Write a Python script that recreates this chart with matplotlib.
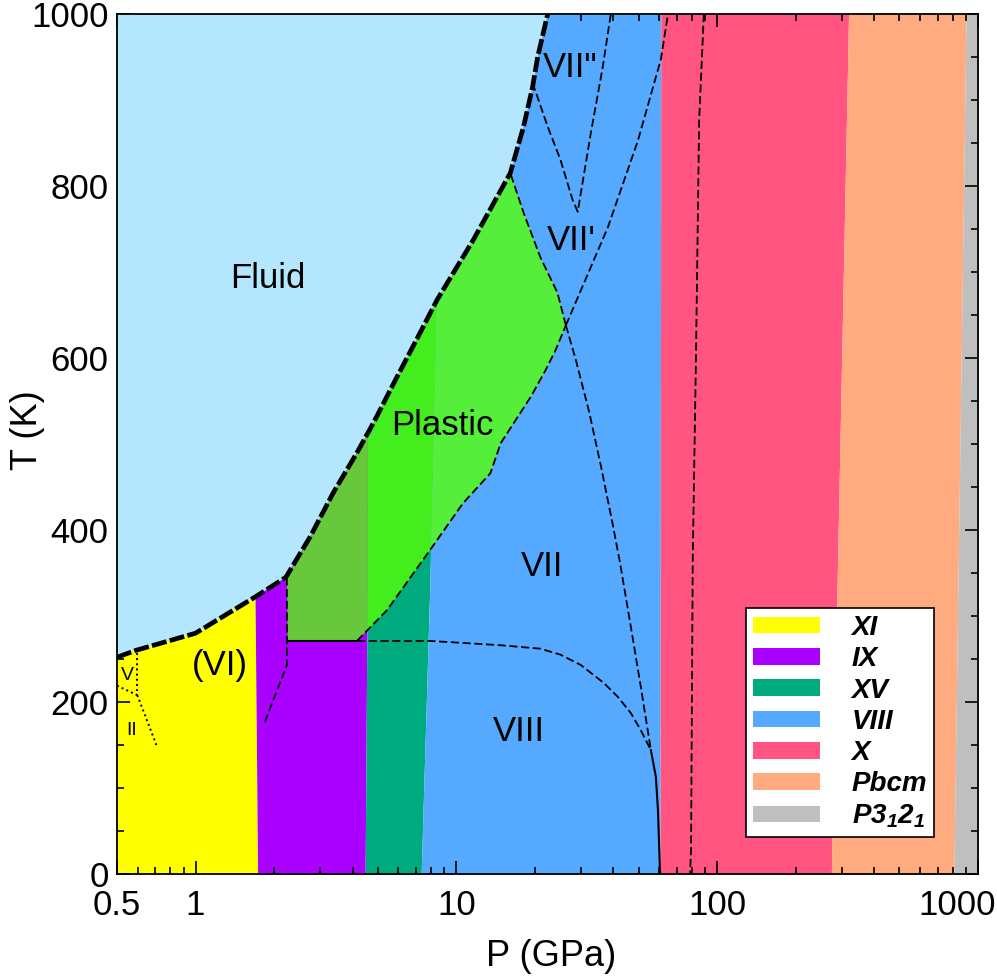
import numpy as np
import matplotlib.pyplot as plt
from matplotlib.patches import Patch, Polygon
from matplotlib.ticker import LogLocator, NullFormatter, MultipleLocator

plt.rcParams['font.family'] = ['Liberation Sans', 'DejaVu Sans']
plt.rcParams['mathtext.fontset'] = 'custom'
plt.rcParams['mathtext.rm'] = 'Liberation Sans:italic:bold'
plt.rcParams['mathtext.it'] = 'Liberation Sans:italic:bold'

# phases and colours
phases = ['XI', 'IX', 'XV', 'VIII', 'X', 'Pbcm', r'$P3_12_1$']
colors = ['#ffff00', '#aa00ff', '#00aa7f', '#55aaff', '#ff5580', '#ffaa7f', '#bfbfbf']
fluid_color = '#b4e6fd'
plastic_colors = ['#66c83a', '#44ee1e', '#55ee3a']

# solid phase borders, P (GPa) at the temperatures T_b (K)
T_b = [0, 330, 1000]
edge_XI_IX = [1.73, 1.69, 1.69]
edge_IX_XV = [4.47, 4.55, 4.6]
edge_XV_VIII = [7.33, 7.9, 8.9]
edge_VIII_X = [60.4, 60.5, 60.8]
edge_X_Pbcm = [274, 288, 319]
edge_Pbcm_P3 = [808, 837, 900]

# melting line
fluid_P = [0.5, 0.59, 1.0, 1.69, 2.22, 2.75, 3.37, 4.16, 4.8, 5.83, 7.0, 8.45, 11.6, 16.1, 18.1, 19.6, 20.5, 22.4]
fluid_T = [252, 260, 280, 322, 345, 392, 443, 490, 524, 574, 620, 668, 737, 815, 869, 915, 950, 1000]

# plastic phase outline
plastic_P = [2.26, 4.16, 5.43, 7.94, 10.6, 13.5, 14.8, 16.9, 19.3, 22.0, 24.0, 26.3,
             24.4, 21.0, 18.1, 16.1, 11.6, 8.45, 7.0, 5.83, 4.8, 4.16, 3.37, 2.75, 2.24]
plastic_T = [271, 271, 307, 377, 431, 466, 501, 528, 555, 586, 609, 638,
             676, 717, 769, 815, 737, 668, 620, 574, 524, 490, 443, 392, 345]
plastic_low_P = [4.16, 5.43, 7.94, 10.6, 13.5, 14.8, 16.9, 19.3, 22.0, 24.0, 26.3]
plastic_low_T = [271, 307, 377, 431, 466, 501, 528, 555, 586, 609, 638]
plastic_up_P = [26.3, 24.4, 21.0, 18.1, 16.1]
plastic_up_T = [638, 676, 717, 769, 815]

# other boundaries
ix_P = [2.24, 2.24, 1.84]
ix_T = [345, 243, 176]
vii_viii_P = [4.16, 7.94, 14.8, 21.0, 25.1, 30.0, 36.8, 41.6, 46.7, 51.0, 55.7]
vii_viii_T = [271, 271, 266, 262, 255, 243, 222, 206, 187, 167, 144]
viii_x_P = [55.7, 58.2, 59.3, 60.4]
viii_x_T = [144, 113, 74, 0]
vii1_low_P = [26.3, 28.7, 32.2, 35.8, 39.8, 42.4, 46.7, 51.0, 55.7]
vii1_low_T = [638, 598, 539, 475, 406, 362, 287, 217, 144]
vii1_up_P = [26.3, 38.1, 49.7, 60.8, 64.8]
vii1_up_T = [638, 752, 853, 947, 1000]
vii2_P = [19.6, 22.4, 25.1, 27.9, 29.2, 32.8, 36.4, 39.1]
vii2_T = [920, 869, 830, 784, 770, 862, 938, 1000]
x_line_P = [88.9, 85.3, 83.0, 80.6, 79.4, 78.7]
x_line_T = [1000, 877, 609, 365, 28, 0]
dot_lines = [([0.5, 0.598], [219, 208]),
             ([0.598, 0.598], [257, 208]),
             ([0.598, 0.708], [208, 150])]

# region labels: text, P, T, size
labels = [('Fluid', 1.89, 692, 25), ('Plastic', 8.83, 521, 25), ('VII', 21.4, 357, 25),
          ('VIII', 17.3, 166, 25), ("VII'", 27.7, 737, 25), ('VII"', 27.4, 938, 25),
          ('(VI)', 1.24, 243, 25), ('V', 0.548, 231, 14), ('II', 0.567, 167, 14)]

fig = plt.figure(figsize=(9.97, 9.80), dpi=100)
ax = fig.add_axes([117 / 997, 1 - 874 / 980, 861 / 997, 860 / 980])
ax.set_xscale('log')
ax.set_xlim(0.5, 1000)
ax.set_ylim(0, 1000)

edges = [[0.3] * 3, edge_XI_IX, edge_IX_XV, edge_XV_VIII, edge_VIII_X,
         edge_X_Pbcm, edge_Pbcm_P3, [2000] * 3]
for i, c in enumerate(colors):
    ax.fill_betweenx(T_b, edges[i], edges[i + 1], color=c, lw=0, zorder=1)

ax.fill(fluid_P + [0.3, 0.3], fluid_T + [1000, 252], color=fluid_color, lw=0, zorder=2)

poly = Polygon(np.column_stack([plastic_P, plastic_T]), closed=True, fill=False,
               edgecolor='none', transform=ax.transData)
ax.add_patch(poly)
p_edges = [[1.5] * 3, edge_IX_XV, edge_XV_VIII, [40] * 3]
for i, c in enumerate(plastic_colors):
    band = ax.fill_betweenx(T_b, p_edges[i], p_edges[i + 1], color=c, lw=0, zorder=3)
    band.set_clip_path(poly)

thin = dict(color='k', lw=1.3, ls=(0, (4.5, 2)), zorder=5)
ax.plot(fluid_P, fluid_T, color='k', lw=3.4, ls=(0, (3.2, 0.7)), zorder=6)
ax.plot(plastic_low_P, plastic_low_T, **thin)
ax.plot(plastic_up_P, plastic_up_T, **thin)
ax.plot([2.26, 4.16], [271, 271], color='k', lw=1.5, zorder=5)
ax.plot(ix_P, ix_T, **thin)
ax.plot(vii_viii_P, vii_viii_T, **thin)
ax.plot(viii_x_P, viii_x_T, color='k', lw=1.5, zorder=5)
ax.plot(vii1_low_P, vii1_low_T, **thin)
ax.plot(vii1_up_P, vii1_up_T, **thin)
ax.plot(vii2_P, vii2_T, **thin)
ax.plot(x_line_P, x_line_T, **thin)
for px, ty in dot_lines:
    ax.plot(px, ty, color='k', lw=1.4, ls=':', zorder=5)

for txt, p, t, s in labels:
    ax.text(p, t, txt, fontsize=s, ha='center', va='center', zorder=7)

# axes, ticks
ax.set_xticks([0.5, 1, 10, 100, 1000])
ax.set_xticklabels(['0.5', '1', '10', '100', ''])
ax.xaxis.set_minor_locator(LogLocator(base=10, subs=np.arange(2, 10)))
ax.xaxis.set_minor_formatter(NullFormatter())
ax.set_yticks(np.arange(0, 1001, 200))
ax.yaxis.set_minor_locator(MultipleLocator(50))
ax.tick_params(which='both', direction='in', top=True, right=True, width=1.2, labelsize=25)
ax.tick_params(which='major', length=9.5)
ax.tick_params(which='minor', length=5)
ax.tick_params(axis='x', pad=11)
ax.tick_params(axis='y', pad=6)
ax.annotate('1000', xy=(1000, 0), xycoords=('data', 'axes fraction'), xytext=(-21, -15),
            textcoords='offset pixels', ha='center', va='top', fontsize=25)
for s in ax.spines.values():
    s.set_linewidth(1.3)
    s.set_zorder(8)

ax.set_xlabel('P (GPa)', fontsize=26)
ax.set_ylabel('T (K)', fontsize=26)
ax.xaxis.set_label_coords(0.504, -0.076)
ax.yaxis.set_label_coords(-0.084, 0.516)

handles = [Patch(facecolor=c, edgecolor='none') for c in colors]
leg = ax.legend(handles, phases, loc='upper left', bbox_to_anchor=(0.7305, 0.3093),
                borderaxespad=0, prop=dict(weight='bold', style='italic', size=20),
                fancybox=False, framealpha=1, edgecolor='k', borderpad=0.25,
                handlelength=2.4, handleheight=0.54, handletextpad=1.15, labelspacing=0.19)
leg.get_frame().set_linewidth(1.2)
leg.set_zorder(9)

fig.savefig('out.png', dpi=100)
